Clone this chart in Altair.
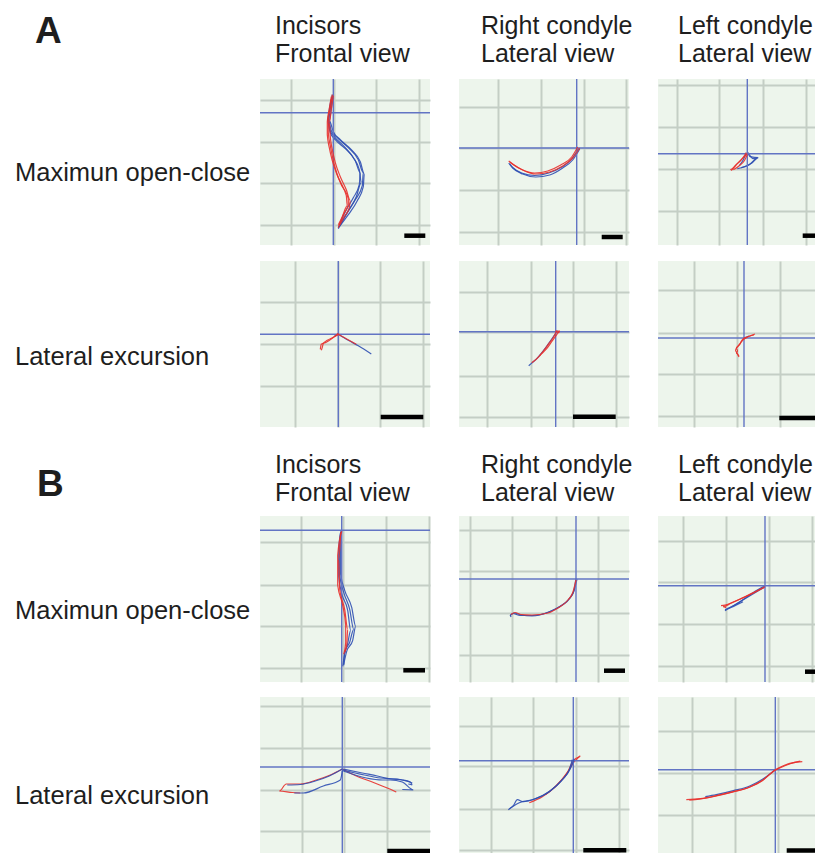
import altair as alt
import pandas as pd

# ---------------- text ----------------
SECTION_LETTERS = ["A", "B"]
COLUMN_TITLES = [("Incisors", "Frontal view"),
                 ("Right condyle", "Lateral view"),
                 ("Left condyle", "Lateral view")]
ROW_LABELS = ["Maximun open-close", "Lateral excursion"]

# ---------------- traces (units relative to the reference cross) ----------------
A1_BLUE = [
    [(-1, 18), (-3, 5), (-5, -7), (-2, -18), (4, -25), (15, -35), (25, -47), (30, -60), (29, -73), (22, -87), (14, -100), (5, -116)],
    [(0, 17), (-2, 4), (-4, -8), (0, -19), (7, -27), (18, -37), (27, -49), (31, -61), (30, -74), (24, -88), (15, -102), (6, -114)],
    [(-1, 16), (-4, 3), (-5, -9), (-3, -20), (2, -27), (12, -36), (22, -48), (27, -60), (26, -72), (20, -85), (12, -99), (5, -115)],
    [(0, 18), (-3, 6), (-6, -6), (-4, -16), (1, -24), (10, -33), (20, -45), (26, -57), (28, -70), (23, -84), (15, -98), (6, -113)],
]
A1_RED = [
    [(-1, 18), (-3, 5), (-5, -8), (-5, -20), (-3, -33), (0, -48), (4, -62), (10, -75), (15, -86), (15, -92), (10, -102), (5, -115)],
    [(0, 17), (-2, 3), (-4, -10), (-3, -24), (-1, -37), (2, -50), (7, -64), (13, -77), (17, -88), (16, -95), (11, -104), (6, -113)],
    [(-2, 16), (-4, 4), (-6, -9), (-6, -22), (-4, -35), (-1, -48), (3, -60), (8, -72), (13, -83), (14, -93), (9, -104), (5, -112)],
]
A2_BLUE = [
    [(3, -1), (-4, -12), (-14, -20), (-27, -27), (-41, -29), (-54, -26), (-64, -20), (-68, -15)],
    [(2, 0), (-5, -11), (-15, -19), (-28, -25), (-42, -27.5), (-55, -25), (-64, -19.5), (-67, -16)],
]
A2_RED = [
    [(3, 0), (-4, -10), (-14, -18), (-27, -24), (-41, -26), (-54, -22), (-63, -17), (-67, -14)],
    [(1, 1), (-5, -9), (-16, -17), (-29, -23), (-42, -25), (-55, -21.5), (-64, -16), (-68, -13)],
]
A3_BLUE = [
    [(0, 2), (3, -3), (11, -4), (5, -9), (-3, -13), (-10, -15)],
    [(-1, 1), (-4, -6), (-8, -12)],
    [(1, 1), (6, -5), (10, -4), (2, -11), (-6, -14)],
]
A3_RED = [
    [(0, 0), (-5, -5), (-10, -10), (-15, -15), (-17, -16)],
    [(-1, 1), (-6, -6), (-12, -12), (-16, -17)],
    [(0, -1), (-3, -7), (-8, -12), (-14, -16)],
]
A4_BLUE = [
    [(0, 0), (10, -6), (20, -11.5), (33, -19.7)],
    [(0, 0), (-4, -2)],
]
A4_RED = [
    [(0, 0), (8, -4.5), (18, -10)],
    [(0, 1), (-6, -4), (-12, -8), (-17, -10), (-18, -15)],
    [(1, 0), (-5, -3), (-11, -6), (-15, -9), (-16, -13), (-17, -16)],
]
A5_BLUE = [
    [(2, 1), (-3, -6), (-10, -16), (-18, -26), (-27, -34)],
]
A5_RED = [
    [(3, 0), (1, -3), (-4, -10), (-9, -17), (-14, -22), (-20, -28), (-24, -31)],
    [(1, 1), (-2, -5), (-7, -12), (-12, -19), (-16, -24)],
    [(0, 0), (4, 1), (3, -1), (0, 1)],
]
A6_BLUE = [
    [(0, 0), (5, 2)],
]
A6_RED = [
    [(11, 4), (7, 2.5), (3, 1), (-1, -1), (-3, -4), (-4, -6), (-7, -9), (-9, -12.5), (-7, -15), (-6, -17), (-5, -19)],
    [(10, 3), (6, 2), (2, 0), (-2, -3), (-5, -7), (-8, -10), (-6, -13), (-8, -15), (-5, -18)],
]
B1_BLUE = [
    [(-1, -1), (-2, -18), (-2, -45), (2, -62), (8, -79), (12, -99), (8, -112), (3, -122), (2, -135)],
    [(0, 0), (-1, -20), (-1, -44), (3, -60), (10, -77), (14, -96), (11, -110), (5, -121), (2, -134)],
    [(-1, -2), (-3, -19), (-3, -46), (0, -63), (6, -80), (9, -100), (6, -113), (3, -123), (1, -136)],
]
B1_RED = [
    [(-1, -2), (-3, -29), (-2, -59), (3, -79), (6, -99), (5, -115), (3, -122)],
    [(0, -1), (-4, -25), (-4, -55), (1, -75), (4, -95), (4, -112), (2, -124)],
]
B2_BLUE = [
    [(1, 0), (-2, -12), (-7, -20), (-17, -28), (-27, -33), (-44, -37), (-55, -36), (-62, -34), (-66, -36), (-65, -38)],
    [(0, 1), (-2, -11), (-6, -19), (-16, -27.5), (-26, -32.5), (-43, -36.5), (-56, -36.5), (-63, -34.5), (-66, -37)],
]
B2_RED = [
    [(0, -1), (-3, -13), (-8, -21), (-18, -29), (-28, -34), (-44, -36), (-55, -35.5), (-61, -33.5), (-65, -35.5)],
]
B3_BLUE = [
    [(0, -1), (-10, -7), (-20, -13), (-30, -19), (-40, -24)],
    [(0, 0), (-12, -7), (-25, -16), (-33, -21), (-40, -25), (-30, -20), (-22, -16)],
]
B3_RED = [
    [(0, -1), (-10, -6), (-20, -11), (-30, -15.5), (-40, -19.5), (-44, -20)],
    [(-1, -2), (-12, -7.5), (-24, -13), (-34, -17.5), (-42, -21), (-39, -22)],
]
B4_BLUE = [
    [(0, -2), (-13, -9), (-27, -14), (-42, -17.5), (-55, -18)],
    [(0, -4), (-2, -13), (-19, -19), (-39, -26), (-48, -26)],
    [(1, -2), (20, -6), (35, -9), (48, -12), (60, -13), (68, -15), (70, -18), (66, -17)],
    [(1, -4), (24, -11), (40, -13), (48, -13), (60, -15), (71, -23), (60, -22.5)],
    [(0, -3), (22, -8), (38, -11), (55, -12), (64, -14), (70, -16)],
]
B4_RED = [
    [(0, -2), (-12, -8), (-26, -13), (-42, -17), (-56, -17), (-63, -24), (-50, -25.5), (-42, -26)],
    [(0, -2), (14, -9), (30, -15), (45, -21), (54, -25)],
]
B5_BLUE = [
    [(-1, 1), (-4, -9), (-11, -19), (-24, -31), (-41, -39), (-54, -42), (-65, -49)],
    [(1, 2), (-3, -8), (-10, -18), (-23, -30), (-38, -38), (-50, -41), (-56, -39), (-60, -45), (-64, -48)],
]
B5_RED = [
    [(7, 5), (1, -1), (-6, -12), (-18, -26), (-31, -36), (-44, -42)],
    [(6, 4), (0, 0), (-5, -10), (-16, -24), (-28, -34)],
]
B6_BLUE = [
    [(0, 0), (-12, -9), (-25, -16), (-42, -21), (-59, -25), (-70, -27)],
]
B6_RED = [
    [(27, 8), (18, 7), (8, 4), (0, 0), (-12, -10), (-25, -17), (-42, -22), (-59, -26), (-75, -29), (-89, -30)],
    [(25, 8.5), (15, 6), (5, 2), (-1, -1), (-13, -11), (-26, -17.5), (-43, -22.5), (-60, -26.5), (-76, -29.5), (-86, -30.5)],
]

# grid line values (same units)
GRID_X = {"A1": [-42, 1, 43, 86], "A2": [-78.4, -36, 7.3, 49], "A3": [-70.6, -28, 15.4, 58.4],
          "A4": [-43.3, 0, 41.7, 85], "A5": [-68.4, -25, 17.3, 60], "A6": [-49.7, -6.7, 36, 79],
          "B1": [-41, 1, 44.3, 87.3], "B2": [-106.3, -63.7, -20.3, 22], "B3": [-82.3, -39, 4, 46.7],
          "B4": [-40.6, 2, 45, 87.7], "B5": [-82.6, -40.3, 2.5, 45.7], "B6": [-83.6, -40.3, 3, 46.4]}
GRID_Y = {"A1": [12.7, -29, -70.6, -112.3], "A2": [41.3, 0, -42, -83.7], "A3": [68.7, 26.4, -15.3, -57],
          "A4": [32, -9.7, -51.4], "A5": [40, 0, -44, -85], "A6": [48, 5, -36, -77.7],
          "B1": [-12, -54.7, -96, -137.7], "B2": [49.3, 7.7, -34, -75.7], "B3": [45, 4, -38.3, -80],
          "B4": [60.7, 19, -22.7, -64.3], "B5": [35, -5.6, -48, -89], "B6": [38.4, -3, -45, -86.6]}
# scale bars: (start, end, level)
SCALE_BARS = {"A1": (71, 92, -123), "A2": (25, 46, -89), "A3": (55.4, 80, -82), "A4": (42.4, 85, -82.7),
              "A5": (17.3, 60, -85), "A6": (35.3, 85, -80), "B1": (61.6, 83.3, -140), "B2": (28, 49, -91.7),
              "B3": (40, 65, -86), "B4": (45, 87.7, -84), "B5": (10, 53, -89.5), "B6": (11.4, 55, -80.8)}

TRACES = {"A1": (A1_BLUE, A1_RED), "A2": (A2_BLUE, A2_RED), "A3": (A3_BLUE, A3_RED),
          "A4": (A4_BLUE, A4_RED), "A5": (A5_BLUE, A5_RED), "A6": (A6_BLUE, A6_RED),
          "B1": (B1_BLUE, B1_RED), "B2": (B2_BLUE, B2_RED), "B3": (B3_BLUE, B3_RED),
          "B4": (B4_BLUE, B4_RED), "B5": (B5_BLUE, B5_RED), "B6": (B6_BLUE, B6_RED)}

# ---------------- layout / style ----------------
FONT = "Liberation Sans"
TXT = "#1e1e1e"
BG = "#edf5ec"
GRID = "#c4cec5"
CROSS = "#6274c4"
BLUE = "#2f4fb2"
RED = "#e8302c"
TOTAL_W = 807
PANEL_W = [170, 170, 157]
ROW_H = [166, 166, 166, 156]
ROW_KEYS = [["A1", "A2", "A3"], ["A4", "A5", "A6"], ["B1", "B2", "B3"], ["B4", "B5", "B6"]]
ROW_LABEL_Y = [94, 96, 95, 99]
TITLE_X = [267, 473, 670]
LETTER_SIZE = 37
ORIGIN = {"A1": (73.3, 33.7), "A2": (117.7, 69), "A3": (89.3, 74.7), "A4": (78.3, 73.3),
          "A5": (96.7, 70.7), "A6": (86, 77), "B1": (81.7, 14.3), "B2": (117, 63),
          "B3": (107, 69.7), "B4": (82.3, 70), "B5": (114.3, 63.7), "B6": (117.3, 72.7)}
BLUE_ON_TOP = {"B4", "B5"}
ONE = pd.DataFrame({"k": [0]})


def panel(key, w, h):
    ox, oy = ORIGIN[key]
    xd, yd = [-ox, w - ox], [oy - h, oy]
    xs = alt.Scale(domain=xd, nice=False, zero=False)
    ys = alt.Scale(domain=yd, nice=False, zero=False)
    gx = [v for v in GRID_X[key] if xd[0] < v < xd[1]]
    gy = [v for v in GRID_Y[key] if yd[0] < v < yd[1]]

    def ax(vals):
        return alt.Axis(values=vals, grid=True, labels=False, ticks=False, domain=False,
                        gridColor=GRID, gridWidth=2, gridOpacity=1)

    X = alt.X("x:Q", scale=xs, axis=ax(gx), title=None)
    Y = alt.Y("y:Q", scale=ys, axis=ax(gy), title=None)

    rows = []
    blue, red = TRACES[key]
    for cname, group in (("blue", blue), ("red", red)):
        for i, tr in enumerate(group):
            for j, (x, y) in enumerate(tr):
                rows.append({"x": x, "y": y, "seq": j, "trace": f"{cname}{i}", "c": cname})
    df = pd.DataFrame(rows)

    cross_v = alt.Chart(ONE).mark_rule(color=CROSS, strokeWidth=1.4, clip=True).encode(x=alt.datum(0))
    cross_h = alt.Chart(ONE).mark_rule(color=CROSS, strokeWidth=1.4, clip=True).encode(y=alt.datum(0))

    def lines(cname, col):
        return (alt.Chart(df).transform_filter(alt.datum.c == cname)
                .mark_line(color=col, strokeWidth=1.2, opacity=0.9, clip=True, interpolate="monotone")
                .encode(x=X, y=Y, detail="trace:N", order="seq:Q"))

    order = [lines("red", RED), lines("blue", BLUE)] if key in BLUE_ON_TOP else [lines("blue", BLUE), lines("red", RED)]

    s = SCALE_BARS[key]
    bar = (alt.Chart(pd.DataFrame({"x": [s[0]], "x2": [s[1]], "y": [s[2]]}))
           .mark_rule(color="black", strokeWidth=4.5, strokeCap="butt", clip=True)
           .encode(x=X, x2="x2:Q", y=Y))

    return alt.layer(order[0], cross_v, cross_h, order[1], bar).properties(
        width=w, height=h, view=alt.ViewBackground(fill=BG, strokeWidth=0))


def text_layer(txt, x, y, size, weight="normal", baseline="top"):
    return alt.Chart(ONE).mark_text(text=txt, align="left", baseline=baseline, font=FONT,
                                    fontSize=size, fontWeight=weight, color=TXT).encode(
        x=alt.value(x), y=alt.value(y))


def header(letter, lx, ly, y1, y2, h):
    # y values are text baselines; converted to the top of the text box
    layers = [text_layer(letter, lx, round(ly - 0.79 * LETTER_SIZE, 1), LETTER_SIZE, "bold")]
    for cx, (t1, t2) in zip(TITLE_X, COLUMN_TITLES):
        layers.append(text_layer(t1, cx, round(y1 - 0.79 * 25, 1), 25))
        layers.append(text_layer(t2, cx, round(y2 - 0.79 * 25, 1), 25))
    return alt.layer(*layers).properties(width=TOTAL_W, height=h)


def row(r):
    h = ROW_H[r]
    label = text_layer(ROW_LABELS[r % 2], 7, ROW_LABEL_Y[r], 25.5, baseline="middle").properties(width=252, height=h)
    panels = [panel(k, w, h) for k, w in zip(ROW_KEYS[r], PANEL_W)]
    return alt.hconcat(label, alt.hconcat(*panels, spacing=29), spacing=0)


headA = header(SECTION_LETTERS[0], 27, 35, 26, 54, 71)
headB = header(SECTION_LETTERS[1], 29, 69, 46, 74, 89)

chart = alt.vconcat(
    headA,
    alt.vconcat(row(0), row(1), spacing=16),
    headB,
    alt.vconcat(row(2), row(3), spacing=15),
    spacing=0,
).properties(padding=0).configure_view(strokeWidth=0)

chart.save("out.html", embed_options={"renderer": "svg", "actions": False})
